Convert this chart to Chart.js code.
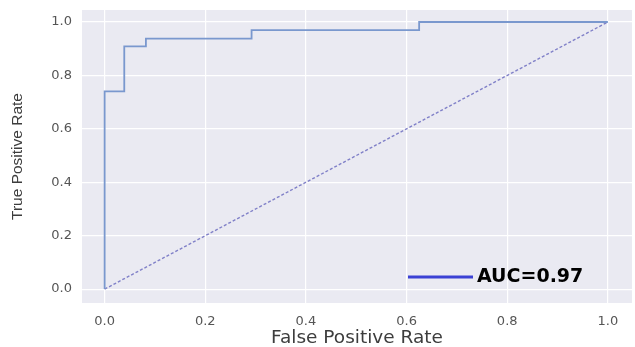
<!DOCTYPE html>
<html>
<head>
<meta charset="utf-8">
<script src="https://cdn.jsdelivr.net/npm/chart.js@4/dist/chart.umd.min.js"></script>
<style>
  body { margin: 0; background: #fff; }
  canvas { display: block; }
</style>
</head>
<body>
<canvas id="rocChart" width="635" height="347"></canvas>
<script>
// ROC curve points
const fpr = [0, 0, 0.039, 0.039, 0.082, 0.082, 0.292, 0.292, 0.625, 0.625, 1];
const tpr = [0, 0.74, 0.74, 0.909, 0.909, 0.938, 0.938, 0.97, 0.97, 1, 1];
const chanceX = [0, 1];
const chanceY = [0, 1];
const aucLabel = 'AUC=0.97';
const xTicks = [0, 0.2, 0.4, 0.6, 0.8, 1.0];
const yTicks = [0, 0.2, 0.4, 0.6, 0.8, 1.0];

// fond gris du graphique + legende dans la zone
const bgPlugin = {
    id: 'plotBg',
    beforeDraw(chart) {
        const a = chart.chartArea;
        const ctx = chart.ctx;
        ctx.save();
        ctx.fillStyle = '#eaeaf2';
        ctx.fillRect(a.left, a.top, a.right - a.left, a.bottom - a.top);
        ctx.restore();
    },
    afterDraw(chart) {
        const ctx = chart.ctx;
        const a = chart.chartArea;
        const y = a.bottom - 26;
        ctx.save();
        ctx.strokeStyle = '#3b41d4';
        ctx.lineWidth = 3;
        ctx.beginPath();
        ctx.moveTo(a.right - 224, y);
        ctx.lineTo(a.right - 159, y);
        ctx.stroke();
        ctx.font = 'bold 19px "DejaVu Sans"';
        ctx.fillStyle = '#000';
        ctx.textBaseline = 'middle';
        ctx.fillText(chart.data.datasets[0].label, a.right - 155, y);
        ctx.restore();
    }
};

const ctx = document.getElementById('rocChart').getContext('2d');
const rocChart = new Chart(ctx, {
    type: 'line',
    data: {
        datasets: [{
            label: aucLabel,
            data: fpr.map((x, i) => ({ x: x, y: tpr[i] })),
            borderColor: 'rgb(122, 152, 206)',
            borderWidth: 1.8,
            pointRadius: 0,
            tension: 0,
            fill: false
        }, {
            label: 'chance',
            data: chanceX.map((x, i) => ({ x: x, y: chanceY[i] })),
            borderColor: 'rgb(128, 128, 200)',
            borderWidth: 1.4,
            borderDash: [3, 2],
            pointRadius: 0,
            fill: false
        }]
    },
    options: {
        responsive: false,
        animation: false,
        layout: { padding: { top: 10, right: 3, left: 0, bottom: 0 } },
        plugins: {
            legend: { display: false },
            tooltip: { enabled: false }
        },
        scales: {
            x: {
                type: 'linear',
                min: -0.045,
                max: 1.048,
                afterBuildTicks: s => { s.ticks = xTicks.map(v => ({ value: v })); },
                afterFit: s => { s.height = 44; s.paddingRight = 0; },
                border: { display: false },
                grid: { color: '#ffffff', lineWidth: 1.2, drawTicks: false },
                ticks: {
                    padding: 11,
                    color: '#555',
                    font: { family: 'DejaVu Sans', size: 13 },
                    callback: v => v.toFixed(1)
                },
                title: {
                    display: true,
                    text: 'False Positive Rate',
                    color: '#3d3d3d',
                    font: { family: 'DejaVu Sans', size: 18.5, lineHeight: 1 },
                    padding: { top: 0, bottom: 0 }
                }
            },
            y: {
                type: 'linear',
                min: -0.052,
                max: 1.045,
                afterBuildTicks: s => { s.ticks = yTicks.map(v => ({ value: v })); },
                afterFit: s => { s.width = 82; s.paddingTop = 0; s.paddingBottom = 0; },
                border: { display: false },
                grid: { color: '#ffffff', lineWidth: 1.2, drawTicks: false },
                ticks: {
                    padding: 10,
                    color: '#555',
                    font: { family: 'DejaVu Sans', size: 13 },
                    callback: v => v.toFixed(1)
                },
                title: {
                    display: true,
                    text: 'True Positive Rate',
                    color: '#3d3d3d',
                    font: { family: 'Liberation Sans', size: 15.5, lineHeight: 1 },
                    padding: { top: 10, bottom: 0 }
                }
            }
        }
    },
    plugins: [bgPlugin]
});
</script>
</body>
</html>
